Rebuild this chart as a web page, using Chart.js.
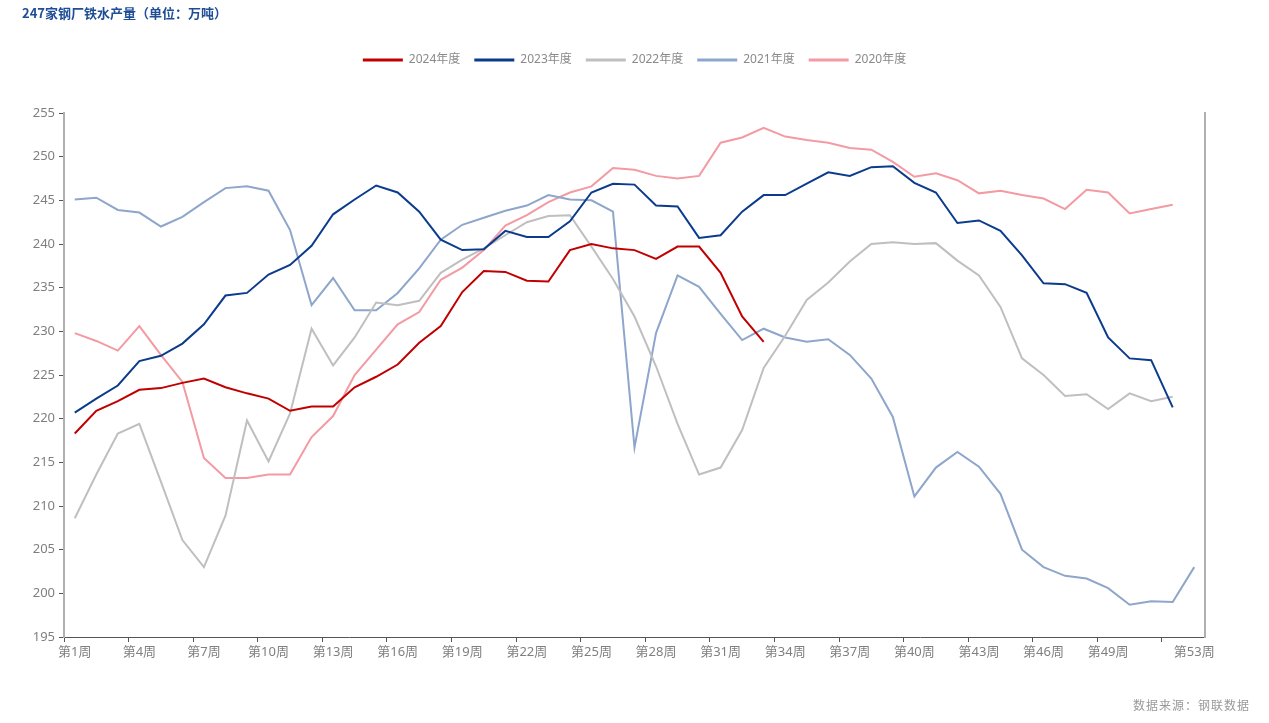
<!DOCTYPE html>
<html>
<head>
<meta charset="utf-8">
<script src="https://cdn.jsdelivr.net/npm/chart.js@4.4.1/dist/chart.umd.min.js"></script>
<style>
    body { margin: 0; background: #fff; }
    #wrap { position: relative; width: 1269px; height: 723px; }
    #title {
        position: absolute; left: 22px; top: 3px;
        font: bold 13px "Noto Sans CJK SC", "Noto Sans", sans-serif;
        color: #1f4e96;
    }
    #source {
        position: absolute; right: 19px; top: 696px;
        font: 12px "Noto Sans CJK SC", sans-serif;
        color: #999; letter-spacing: 1px;
    }
</style>
</head>
<body>
<div id="wrap">
    <canvas id="ironChart"></canvas>
    <div id="title">247家钢厂铁水产量（单位：万吨）</div>
    <div id="source">数据来源：钢联数据</div>
</div>
<script>
const weeks = Array.from({ length: 53 }, (_, i) => '第' + (i + 1) + '周');

const y2024 = [218.3, 220.9, 222.0, 223.3, 223.5, 224.1, 224.6, 223.6, 222.9, 222.3,
    220.9, 221.4, 221.4, 223.6, 224.8, 226.2, 228.7, 230.6, 234.5, 236.9,
    236.8, 235.8, 235.7, 239.3, 240.0, 239.5, 239.3, 238.3, 239.7, 239.7,
    236.7, 231.7, 228.8];

const y2023 = [220.7, 222.3, 223.8, 226.6, 227.2, 228.6, 230.8, 234.1, 234.4, 236.5,
    237.6, 239.8, 243.4, 245.1, 246.7, 245.9, 243.7, 240.5, 239.3, 239.4,
    241.5, 240.8, 240.8, 242.6, 245.9, 246.9, 246.8, 244.4, 244.3, 240.7,
    241.0, 243.7, 245.6, 245.6, 246.9, 248.2, 247.8, 248.8, 248.9, 247.0,
    245.9, 242.4, 242.7, 241.5, 238.7, 235.5, 235.4, 234.4, 229.3, 226.9,
    226.7, 221.3];

const y2022 = [208.6, 213.6, 218.3, 219.4, 212.8, 206.1, 203.0, 208.9, 219.8, 215.1,
    220.6, 230.3, 226.1, 229.3, 233.3, 233.0, 233.5, 236.7, 238.2, 239.5,
    241.0, 242.5, 243.2, 243.3, 239.7, 236.0, 231.7, 226.0, 219.4, 213.6,
    214.4, 218.7, 225.8, 229.5, 233.6, 235.6, 238.0, 240.0, 240.2, 240.0,
    240.1, 238.1, 236.4, 232.8, 226.9, 225.0, 222.6, 222.8, 221.1, 222.9,
    222.0, 222.5];

const y2021 = [245.1, 245.3, 243.9, 243.6, 242.0, 243.1, 244.8, 246.4, 246.6, 246.1,
    241.6, 233.0, 236.1, 232.4, 232.4, 234.4, 237.2, 240.5, 242.2, 243.0,
    243.8, 244.4, 245.6, 245.1, 245.0, 243.7, 216.7, 229.8, 236.4, 235.1,
    232.0, 229.0, 230.3, 229.3, 228.8, 229.1, 227.3, 224.6, 220.2, 211.1,
    214.4, 216.2, 214.5, 211.4, 205.0, 203.0, 202.0, 201.7, 200.6, 198.7,
    199.1, 199.0, 203.0];

const y2020 = [229.8, 228.9, 227.8, 230.6, 227.3, 224.2, 215.5, 213.2, 213.2, 213.6,
    213.6, 217.9, 220.3, 225.0, 227.9, 230.8, 232.2, 235.9, 237.3, 239.3,
    242.1, 243.3, 244.8, 245.9, 246.6, 248.7, 248.5, 247.8, 247.5, 247.8,
    251.6, 252.2, 253.3, 252.3, 251.9, 251.6, 251.0, 250.8, 249.4, 247.7,
    248.1, 247.3, 245.8, 246.1, 245.6, 245.2, 244.0, 246.2, 245.9, 243.5,
    244.0, 244.5];

const seriesNames = ['2024年度', '2023年度', '2022年度', '2021年度', '2020年度'];
const seriesColors = ['#c00000', '#0b3b8c', '#bfbfbf', '#8ea6cb', '#f39aa3'];
const seriesData = [y2024, y2023, y2022, y2021, y2020];

const font = "'Noto Sans', 'Noto Sans CJK SC', sans-serif";

// legend sits high, extra room below it before the plot
const legendSpace = {
    id: 'legendSpace',
    beforeLayout(chart) {
        const legend = chart.legend;
        if (legend && !legend._patched) {
            const fit = legend.fit;
            legend.fit = function () {
                fit.call(this);
                this.height = 73;
            };
            legend._patched = true;
        }
    }
};

const ctx = document.getElementById('ironChart').getContext('2d');
new Chart(ctx, {
    type: 'line',
    data: {
        labels: weeks,
        datasets: seriesNames.map((name, i) => ({
            label: name,
            data: seriesData[i],
            borderColor: seriesColors[i],
            backgroundColor: seriesColors[i],
            borderWidth: 2,
            pointRadius: 0,
            pointHoverRadius: 0,
            tension: 0,
            fill: false
        }))
    },
    options: {
        responsive: true,
        maintainAspectRatio: false,
        animation: false,
        layout: { padding: { top: 40, left: 0, right: 0, bottom: 0 } },
        scales: {
            x: {
                offset: true,
                afterFit: scale => { scale.height = 86; },
                grid: {
                    offset: true,
                    drawOnChartArea: false,
                    tickLength: 5,
                    color: c => (c.index % 3 === 0 && c.index <= 51) ? '#555' : 'rgba(0,0,0,0)'
                },
                border: { color: '#555', width: 1 },
                ticks: {
                    autoSkip: false,
                    maxRotation: 0,
                    padding: 2,
                    color: '#7f7f7f',
                    font: { family: font, size: 13 },
                    callback: function (val, idx) {
                        return (idx % 3 === 0 && idx <= 48) || idx === 52 ? weeks[idx] : '';
                    }
                }
            },
            y: {
                min: 195,
                max: 255,
                afterFit: scale => { scale.width = 64; },
                grid: { drawOnChartArea: false, tickLength: 5, color: '#555' },
                border: { color: '#b0b0b0', width: 2 },
                ticks: {
                    stepSize: 5,
                    padding: 4,
                    color: '#7f7f7f',
                    font: { family: font, size: 13 }
                }
            },
            y1: {
                position: 'right',
                min: 195,
                max: 255,
                afterFit: scale => { scale.width = 64; },
                grid: { display: false },
                border: { display: true, color: '#b0b0b0', width: 2 },
                ticks: { display: false }
            }
        },
        plugins: {
            legend: {
                position: 'top',
                labels: {
                    boxWidth: 40,
                    boxHeight: 3,
                    padding: 14,
                    color: '#8a8a8a',
                    font: { family: font, size: 12 },
                    generateLabels: chart => Chart.defaults.plugins.legend.labels.generateLabels(chart)
                        .map(item => Object.assign(item, { lineWidth: 0 }))
                }
            },
            tooltip: { enabled: false }
        }
    },
    plugins: [legendSpace]
});
</script>
</body>
</html>
